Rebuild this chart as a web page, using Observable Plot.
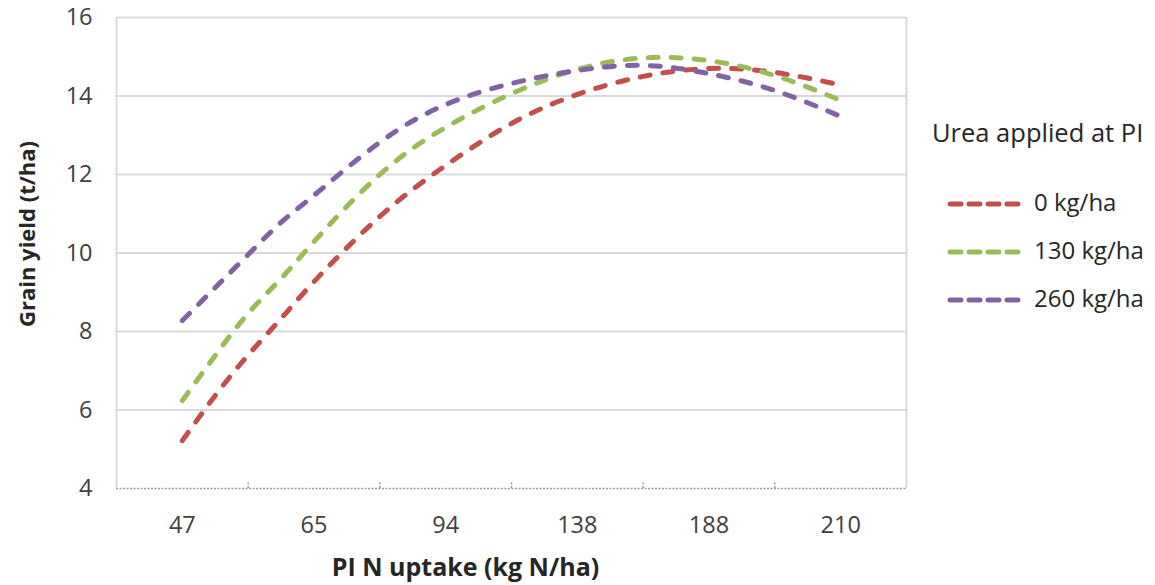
<!DOCTYPE html>
<html>
<head>
<meta charset="utf-8">
<script src="https://cdn.jsdelivr.net/npm/d3@7"></script>
<script src="https://cdn.jsdelivr.net/npm/@observablehq/plot@0.6"></script>
<style>
  html, body { margin: 0; padding: 0; background: #fff; }
  #wrap { position: relative; width: 1155px; height: 585px; font-family: "Open Sans", sans-serif; }
  #legend { position: absolute; left: 0; top: 0; }
</style>
</head>
<body>
<div id="wrap"></div>
<script>
// ---- data ----
const xLabels = ["47", "65", "94", "138", "188", "210"];
const xPos = [0, 0.25, 0.5, 0.75, 1, 1.5, 2, 2.5, 3, 3.5, 4, 4.5, 5];
const urea0   = [5.22, 6.37, 7.40, 8.33, 9.27, 10.93, 12.23, 13.30, 14.04, 14.50, 14.70, 14.60, 14.28];
const urea130 = [6.24, 7.39, 8.46, 9.35, 10.29, 12.00, 13.20, 14.06, 14.68, 14.97, 14.90, 14.52, 13.89];
const urea260 = [8.28, 9.12, 9.96, 10.78, 11.47, 12.82, 13.78, 14.32, 14.65, 14.78, 14.57, 14.14, 13.48];
const seriesNames = ["0 kg/ha", "130 kg/ha", "260 kg/ha"];
const seriesColors = ["#C0504D", "#9BBB59", "#8064A2"];
const yTicks = [4, 6, 8, 10, 12, 14, 16];
const legendTitle = "Urea applied at PI";
const xTitle = "PI N uptake (kg N/ha)";
const yTitle = "Grain yield (t/ha)";

const seriesValues = [urea0, urea130, urea260];
const rows = seriesNames.flatMap((s, k) => xPos.map((x, i) => ({x, y: seriesValues[k][i], s})));
const xIdx = xLabels.map((_, i) => i);
const bounds = xLabels.slice(0, -1).map((_, i) => i + 0.5);

const chart = Plot.plot({
  width: 1155,
  height: 585,
  marginLeft: 116,
  marginRight: 249,
  marginTop: 17,
  marginBottom: 97,
  style: {fontFamily: "Open Sans, sans-serif", fontSize: "23px", color: "#404040", background: "#fff"},
  x: {domain: [-0.5, 5.5]},
  y: {domain: [4, 16]},
  color: {domain: seriesNames, range: seriesColors},
  marks: [
    Plot.ruleY(yTicks.filter(v => v > 4), {stroke: "#d9d9d9", strokeWidth: 2}),
    Plot.ruleX([-0.5, 5.5], {y1: 4, y2: 16, stroke: "#d9d9d9", strokeWidth: 2}),
    Plot.ruleY([4], {stroke: "#9a9a9a", strokeWidth: 1.5, strokeDasharray: "2,1.5"}),
    Plot.ruleX(bounds, {y1: 4, y2: 4.18, stroke: "#9a9a9a", strokeWidth: 1.5, strokeDasharray: "2,1.5"}),
    Plot.axisX({ticks: xIdx, tickFormat: i => xLabels[i], tickSize: 0, tickPadding: 28, label: null, fontSize: 23.5, fill: "#404040"}),
    Plot.axisY({ticks: yTicks, tickSize: 0, tickPadding: 24, label: null, fontSize: 23.5, fill: "#404040"}),
    Plot.line(rows, {x: "x", y: "y", z: "s", stroke: "s", curve: "natural",
      strokeWidth: 5, strokeDasharray: "10,13", strokeLinecap: "round"}),
    Plot.text([xTitle], {frameAnchor: "bottom", dx: -46, dy: 79, lineAnchor: "middle", textAnchor: "middle",
      fontWeight: "bold", fontSize: 25, fill: "#262626"}),
    Plot.text([yTitle], {frameAnchor: "left", dx: -89, dy: -19, rotate: -90, textAnchor: "middle", lineAnchor: "middle",
      fontWeight: "bold", fontSize: 22, fill: "#262626"})
  ]
});
document.getElementById("wrap").appendChild(chart);

// legend (right side)
const ns = "http://www.w3.org/2000/svg";
const lg = document.createElementNS(ns, "svg");
lg.setAttribute("id", "legend");
lg.setAttribute("width", 1155);
lg.setAttribute("height", 585);
lg.style.pointerEvents = "none";
const t = document.createElementNS(ns, "text");
t.setAttribute("x", 932); t.setAttribute("y", 142);
t.setAttribute("font-size", 25.5); t.setAttribute("fill", "#262626");
t.setAttribute("font-family", "Open Sans, sans-serif");
t.textContent = legendTitle;
lg.appendChild(t);
seriesNames.forEach((name, k) => {
  const cy = 204 + k * 48;
  const ln = document.createElementNS(ns, "line");
  ln.setAttribute("x1", 950); ln.setAttribute("x2", 1020);
  ln.setAttribute("y1", cy); ln.setAttribute("y2", cy);
  ln.setAttribute("stroke", seriesColors[k]); ln.setAttribute("stroke-width", 5);
  ln.setAttribute("stroke-dasharray", "11,8"); ln.setAttribute("stroke-linecap", "round");
  lg.appendChild(ln);
  const tx = document.createElementNS(ns, "text");
  tx.setAttribute("x", 1034); tx.setAttribute("y", cy + 7);
  tx.setAttribute("font-size", 24); tx.setAttribute("fill", "#262626");
  tx.setAttribute("font-family", "Open Sans, sans-serif");
  tx.textContent = name;
  lg.appendChild(tx);
});
document.getElementById("wrap").appendChild(lg);
</script>
</body>
</html>
